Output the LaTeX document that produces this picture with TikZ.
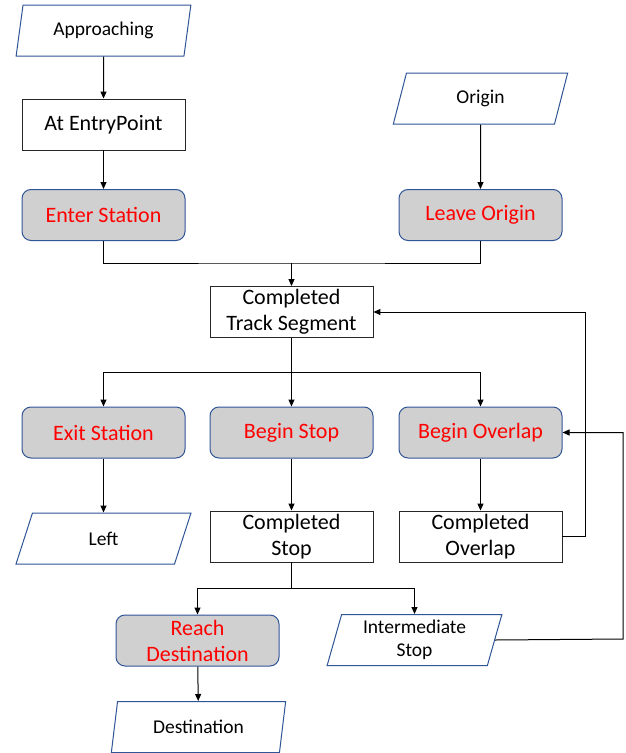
\documentclass[tikz,border=0pt]{standalone}
\usepackage{fontspec}
\setmainfont{Carlito}
\usetikzlibrary{shapes.geometric,arrows.meta}
\definecolor{bbord}{HTML}{2F5597}
\definecolor{gfill}{HTML}{D0D0D0}
\definecolor{rtext}{HTML}{FF0000}
\begin{document}
\begin{tikzpicture}[x=1pt,y=-1pt,
  every node/.style={align=center, inner sep=0pt},
  io/.style={trapezium, trapezium left angle=75.7, trapezium right angle=104.3,
    trapezium stretches=true, draw=bbord, line width=1pt, fill=white,
    minimum width=175pt, minimum height=51pt, font=\fontsize{19.5}{23.5}\selectfont},
  proc/.style={rectangle, draw=black!85, line width=0.9pt, minimum width=163pt, minimum height=51pt,
    font=\fontsize{22}{26}\selectfont},
  evt/.style={rectangle, rounded corners=9pt, draw=bbord, line width=1pt, fill=gfill,
    text=rtext, minimum width=163pt, minimum height=51pt, font=\fontsize{22}{26}\selectfont},
  conn/.style={draw=black, line width=1pt},
  arr/.style={conn, -{Triangle[length=7pt,width=6pt]}}]
\useasboundingbox (0,0) rectangle (626,753);
\node[io]   (app)   at (103.5,30.5) {Approaching};
\node[proc] (entry) at (103.5,124.5) {At EntryPoint};
\node[evt]  (enter) at (103.5,215) {Enter Station};
\node[io]   (origin) at (480.5,98.5) {Origin};
\node[evt]  (leave) at (480.5,215) {Leave Origin};
\node[proc] (cts)   at (291.5,312) {Completed\\Track Segment};
\node[evt]  (exit)  at (103.5,432.5) {Exit Station};
\node[evt]  (bstop) at (291.5,432.5) {Begin Stop};
\node[evt]  (bover) at (480.5,432.5) {Begin Overlap};
\node[io]   (left)  at (103.5,538.5) {Left};
\node[proc] (cstop) at (291.5,536.5) {Completed\\Stop};
\node[proc] (cover) at (480.5,536.5) {Completed\\Overlap};
\node[evt]  (reach) at (197.5,640.5) {Reach\\Destination};
\node[io]   (inter) at (414.5,640) {Intermediate\\Stop};
\node[io]   (dest)  at (198.5,727) {Destination};
\coordinate (m1) at (291.5,263);
\coordinate (m2) at (291.5,372);
\coordinate (m3) at (291.5,588);
\coordinate (r1) at (585,536.5);
\coordinate (r2) at (623,639);
\draw[arr] (app) -- (entry);
\draw[arr] (entry) -- (enter);
\draw[arr] (origin) -- (leave);
\draw[conn] (enter.south) |- (m1) -| (leave.south);
\draw[arr] (m1) -- (cts.north);
\draw[conn] (cts.south) -- (m2);
\draw[arr] (m2) -| (exit.north);
\draw[arr] (m2) -| (bover.north);
\draw[arr] (m2) -- (bstop.north);
\draw[arr] (exit) -- (left);
\draw[arr] (bstop) -- (cstop);
\draw[arr] (bover) -- (cover);
\draw[arr] (cover.east) -- (r1) |- (cts.east);
\draw[conn] (cstop.south) -- (m3);
\draw[arr] (m3) -| (reach.north);
\draw[arr] (m3) -| (inter.north);
\draw[arr] (reach) -- (dest);
\draw[arr] (inter.east) -- (r2) |- (bover.east);
\end{tikzpicture}
\end{document}
